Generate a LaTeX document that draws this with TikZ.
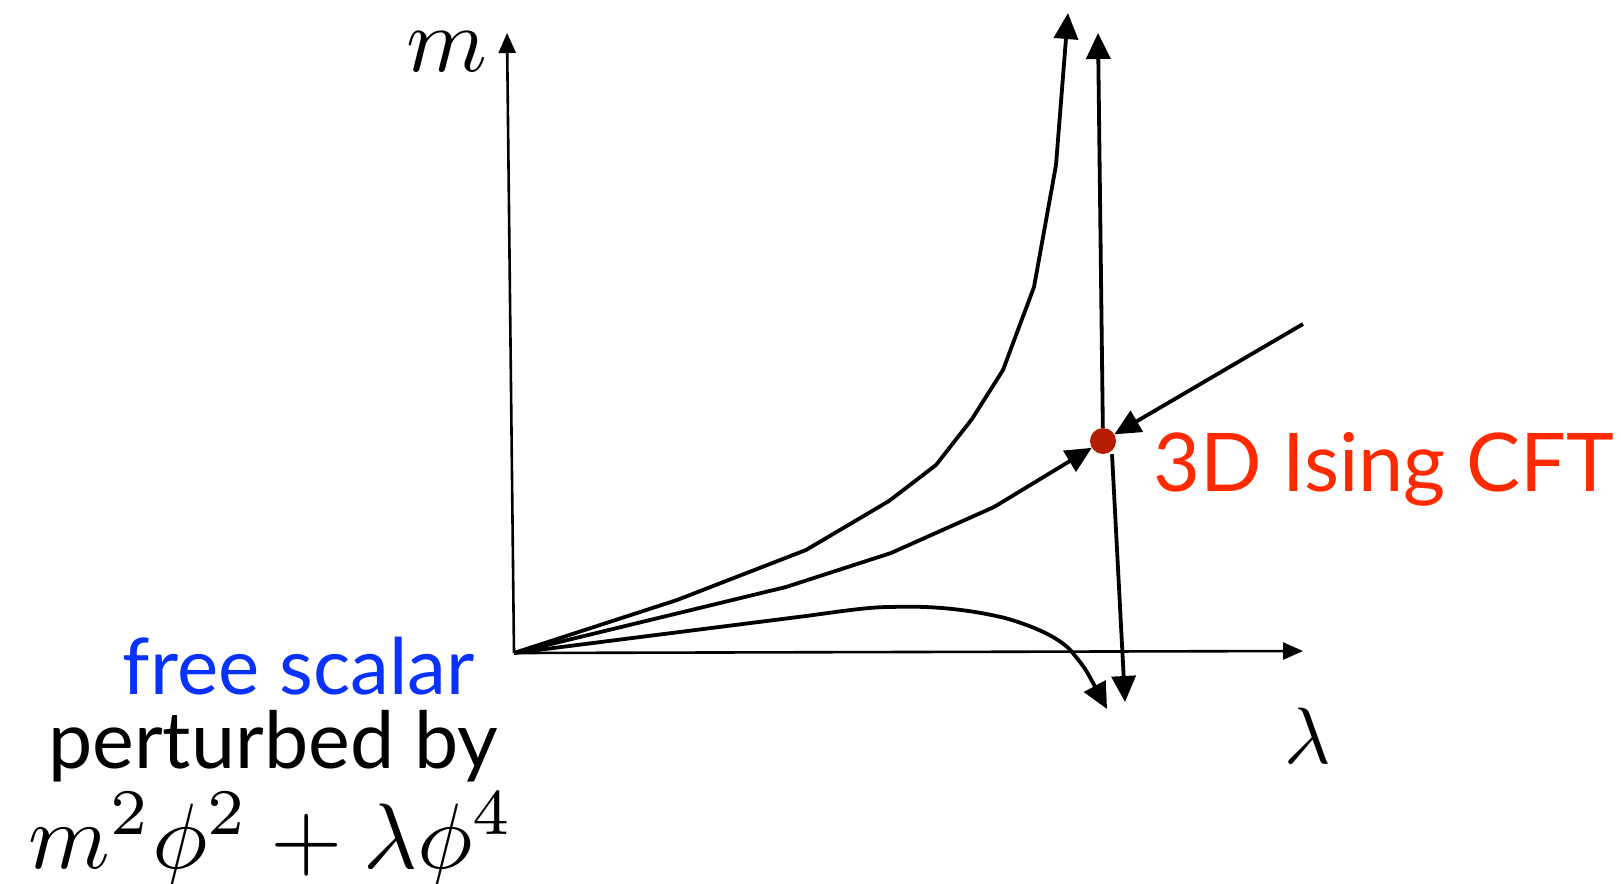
\documentclass[tikz,border=0pt]{standalone}
\usepackage{fontspec}
\newfontfamily\gill{Lato}
\usetikzlibrary{arrows.meta,calc}
\definecolor{freeblue}{HTML}{0A32FF}
\definecolor{isingred}{HTML}{FF2A00}
\definecolor{dotred}{HTML}{B51C00}
\begin{document}
\begin{tikzpicture}[x=1pt,y=-1pt,
  axis/.style={line width=2.6pt,-{Triangle[length=20pt,width=17pt]}},
  flow/.style={line width=3.8pt,line join=round,-{Triangle[length=26pt,width=24pt]}},
  lbl/.style={inner sep=0pt,font=\gill\fontsize{78}{90}\selectfont}]
\useasboundingbox (0,0) rectangle (1621,883);
% points
\coordinate (O) at (514,653);
\coordinate (mtop) at (507,33);
\coordinate (lend) at (1303,651);
\node[circle,fill=dotred,minimum size=26pt,inner sep=0pt] (ising) at (1103,441) {};
\coordinate (vtop) at (1098,33);
\coordinate (vbot) at (1125,702);
\coordinate (ur) at (1303,324);
% axes
\draw[axis] (O) -- (mtop);
\draw[axis] (O) -- (lend);
% upper curve
\coordinate (u1) at (677,600);
\coordinate (u2) at (806,550);
\coordinate (u3) at (889,501);
\coordinate (u4) at (936,465);
\coordinate (u5) at (972,419);
\coordinate (u6) at (1003,370);
\coordinate (u7) at (1034,287);
\coordinate (u8) at (1056,165);
\coordinate (utip) at (1068,13);
\draw[flow] (O) -- (u1) -- (u2) -- (u3) -- (u4) -- (u5) -- (u6) -- (u7) -- (u8) -- (utip);
% middle curve
\coordinate (m1) at (786,587);
\coordinate (m2) at (891,553);
\coordinate (m3) at (994,507);
\draw[flow] (O) -- (m1) -- (m2) -- (m3) -- (ising);
% lower curve
\coordinate (l1) at (806,616);
\coordinate (l2) at (891,607);
\coordinate (l3) at (1005,618);
\coordinate (l4) at (1072,652);
\coordinate (ltip) at (1107,709);
\draw[flow] (O) -- (l1) .. controls (850,610) and (870,607) .. (l2)
  .. controls (940,605) and (980,612) .. (l3)
  .. controls (1040,628) and (1062,640) .. (l4)
  .. controls (1085,668) .. (ltip);
% flows at the fixed point
\draw[flow] (ur) -- (ising);
\draw[flow] (ising) -- (vtop);
\draw[flow] ([xshift=9pt]ising.south) -- (vbot);
% labels
\node[inner sep=0pt,anchor=center,scale=9.2] (mlab) at (447,52) {$m$};
\node[inner sep=0pt,anchor=base,scale=8] (llab) at (1308,763) {$\lambda$};
\node[lbl,anchor=base west,text=isingred,font=\gill\fontsize{81}{90}\selectfont] (isinglab) at (1153,491) {3D Ising CFT};
\node[lbl,anchor=base east,text=freeblue] (free) at (475,694) {free scalar};
\node[lbl,anchor=base west,font=\gill\fontsize{79}{90}\selectfont] (pert) at (48,768) {perturbed by};
\node[inner sep=0pt,anchor=base west,scale=9.3] (pot) at (27,868) {$m^2\phi^2+\lambda\phi^4$};
\end{tikzpicture}
\end{document}
